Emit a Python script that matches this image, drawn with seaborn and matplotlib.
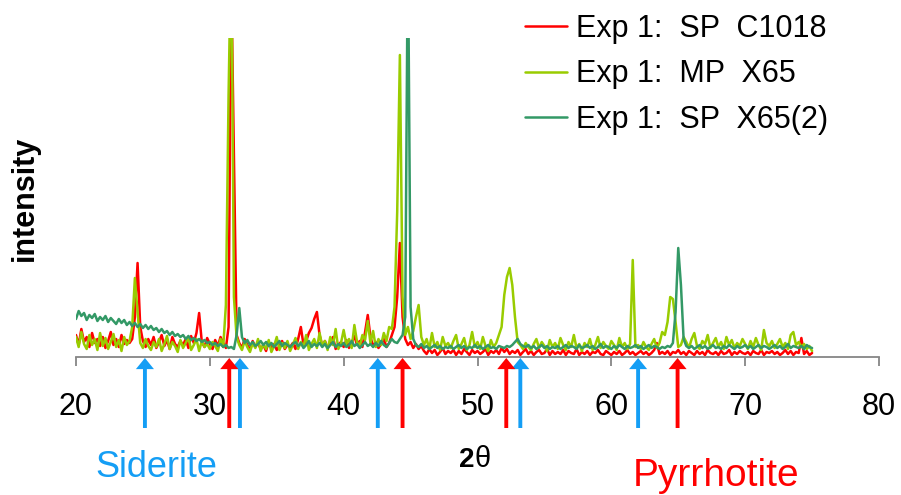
import numpy as np
import pandas as pd
import matplotlib
matplotlib.use("Agg")
import matplotlib.pyplot as plt
from matplotlib.lines import Line2D
import seaborn as sns

# ---------------- data ----------------
# 2-theta grid: 20.0 .. 75.0, step 0.2 (276 points)
two_theta = [round(20.0 + 0.2 * i, 1) for i in range(276)]

sp_c1018 = [
    22, 12, 28, 15, 20, 10, 24, 14, 18, 11,
    20, 9, 16, 25, 12, 18, 10, 22, 13, 17,
    14, 18, 40, 94, 30, 16, 10, 18, 12, 20,
    9, 15, 22, 11, 17, 8, 20, 13, 10, 16,
    12, 18, 9, 21, 14, 24, 44, 15, 10, 19,
    13, 8, 17, 11, 20, 14, 9, 30, 380, 200,
    22, 14, 9, 18, 12, 7, 16, 10, 14, 8,
    12, 6, 15, 9, 13, 7, 11, 16, 8, 12,
    10, 14, 8, 18, 30, 12, 16, 24, 29, 38,
    45, 22, 11, 16, 9, 13, 20, 8, 12, 15,
    10, 17, 9, 14, 21, 12, 16, 10, 25, 42,
    20, 11, 15, 9, 13, 18, 10, 14, 22, 30,
    60, 114, 40, 18, 12, 15, 9, 13, 8, 11,
    6, 3, 8, 4, 7, 2, 5, 9, 3, 6,
    4, 7, 2, 6, 3, 8, 5, 2, 7, 4,
    6, 3, 5, 8, 2, 6, 4, 7, 3, 9,
    5, 8, 3, 6, 4, 7, 2, 5, 8, 3,
    6, 2, 5, 7, 3, 4, 8, 2, 6, 3,
    5, 3, 7, 2, 6, 4, 3, 8, 2, 5,
    3, 6, 2, 5, 4, 7, 3, 2, 6, 4,
    2, 5, 3, 6, 2, 4, 7, 3, 5, 2,
    4, 6, 3, 5, 2, 4, 7, 14, 3, 5,
    3, 6, 2, 5, 4, 7, 3, 5, 2, 6,
    4, 2, 6, 3, 5, 2, 7, 4, 3, 5,
    2, 6, 3, 4, 7, 2, 5, 3, 6, 4,
    3, 5, 2, 6, 4, 3, 7, 2, 5, 4,
    6, 3, 5, 2, 4, 7, 3, 6, 2, 5,
    4, 19, 3, 6, 2, 4,
]

mp_x65 = [
    20, 10, 25, 13, 8, 22, 12, 18, 7, 24,
    11, 19, 8, 15, 23, 10, 17, 6, 20, 12,
    16, 30, 79, 45, 14, 9, 18, 11, 7, 15,
    10, 18, 6, 13, 21, 8, 15, 11, 5, 17,
    9, 14, 20, 7, 12, 18, 6, 16, 10, 13,
    8, 15, 11, 6, 18, 10, 52, 262, 420, 60,
    20, 12, 7, 16, 10, 5, 14, 9, 18, 6,
    13, 8, 17, 5, 11, 20, 7, 14, 9, 16,
    6, 12, 19, 8, 15, 10, 22, 7, 13, 18,
    9, 24, 11, 16, 7, 20, 12, 28, 8, 14,
    27, 13, 18, 9, 32, 15, 11, 22, 17, 36,
    14, 26, 10, 18, 12, 24, 16, 30, 28, 50,
    145, 302, 60, 22, 30, 18, 26, 40, 52, 20,
    12, 18, 8, 24, 10, 15, 7, 20, 11, 14,
    9, 16, 22, 8, 13, 19, 7, 12, 25, 10,
    15, 8, 20, 11, 6, 17, 10, 14, 22, 30,
    62, 80, 89, 72, 40, 15, 12, 8, 14, 10,
    7, 13, 18, 9, 15, 11, 6, 17, 10, 14,
    8, 19, 12, 7, 15, 10, 22, 9, 13, 6,
    14, 10, 18, 7, 12, 20, 9, 15, 11, 8,
    16, 12, 7, 19, 10, 14, 8, 13, 97, 10,
    12, 8, 15, 10, 7, 13, 18, 9, 14, 25,
    22, 35, 60, 58, 35, 10, 12, 20, 15, 9,
    18, 24, 11, 8, 16, 13, 22, 9, 14, 19,
    10, 15, 8, 20, 12, 17, 9, 14, 11, 18,
    13, 8, 16, 10, 19, 12, 7, 27, 14, 11,
    16, 9, 13, 18, 10, 14, 8, 22, 25, 12,
    15, 10, 13, 8, 11, 6,
]

sp_x65_2 = [
    38, 46, 41, 44, 37, 42, 39, 43, 36, 40,
    37, 41, 35, 39, 36, 33, 38, 34, 37, 32,
    35, 31, 34, 30, 33, 29, 32, 28, 31, 27,
    29, 25, 28, 24, 26, 22, 25, 21, 23, 20,
    22, 18, 21, 17, 19, 16, 18, 15, 17, 14,
    15, 12, 14, 11, 13, 10, 12, 9, 10, 8,
    22, 49, 20, 14, 17, 12, 15, 11, 13, 16,
    12, 15, 11, 14, 10, 13, 16, 11, 14, 12,
    10, 13, 15, 11, 14, 9, 12, 16, 10, 13,
    11, 14, 10, 13, 9, 12, 15, 10, 13, 11,
    14, 10, 12, 16, 11, 13, 9, 12, 15, 11,
    13, 10, 14, 11, 16, 12, 10, 14, 18, 15,
    14, 18, 22, 40, 420, 50, 18, 12, 10, 13,
    9, 11, 8, 10, 12, 9, 11, 8, 10, 9,
    11, 8, 10, 12, 9, 11, 8, 10, 9, 12,
    9, 11, 8, 10, 12, 9, 10, 8, 11, 10,
    9, 11, 10, 12, 15, 18, 13, 11, 10, 12,
    9, 11, 8, 10, 12, 9, 11, 8, 10, 9,
    11, 8, 10, 12, 9, 11, 10, 8, 12, 9,
    10, 12, 9, 11, 8, 10, 13, 9, 11, 10,
    8, 11, 9, 12, 10, 8, 11, 9, 10, 12,
    9, 11, 8, 10, 12, 9, 11, 10, 8, 10,
    9, 11, 10, 14, 45, 109, 72, 18, 11, 9,
    11, 8, 10, 12, 9, 11, 8, 10, 12, 9,
    10, 8, 11, 9, 12, 10, 8, 11, 9, 10,
    12, 9, 11, 8, 10, 12, 9, 11, 10, 8,
    10, 12, 9, 11, 8, 10, 13, 9, 11, 10,
    9, 11, 8, 12, 10, 9,
]

series_names = ["Exp 1:  SP  C1018", "Exp 1:  MP  X65", "Exp 1:  SP  X65(2)"]
series_colors = ["#FF0000", "#99CC00", "#339966"]

siderite_pos = [25.15, 32.25, 42.55, 53.2, 62.0]
pyrrhotite_pos = [31.45, 44.4, 52.15, 64.95]
x_ticks = [20, 30, 40, 50, 60, 70, 80]

# ---------------- build table ----------------
frames = []
for name, vals in zip(series_names, [sp_c1018, mp_x65, sp_x65_2]):
    frames.append(pd.DataFrame({"two_theta": two_theta[:len(vals)],
                                "intensity": vals, "series": name}))
df = pd.concat(frames, ignore_index=True)

# ---------------- figure ----------------
sns.set_theme(style="white")
plt.rcParams["font.family"] = ["Liberation Sans", "DejaVu Sans"]
plt.rcParams["text.color"] = "black"
plt.rcParams["xtick.color"] = "black"

W, H = 901, 495
fig = plt.figure(figsize=(W / 100, H / 100), dpi=100)
ax_left, ax_right, ax_bottom, ax_top = 76, 879, 357, 38
ax = fig.add_axes([ax_left / W, 1 - ax_bottom / H,
                   (ax_right - ax_left) / W, (ax_bottom - ax_top) / H])

sns.lineplot(data=df, x="two_theta", y="intensity", hue="series",
             palette=dict(zip(series_names, series_colors)),
             hue_order=series_names, estimator=None, sort=False,
             linewidth=1.8, legend=False, ax=ax)

ax.set_xlim(20, 80)
ax.set_ylim(0, 319)
ax.set_xticks(x_ticks)
ax.set_yticks([])
ax.set_xlabel("")
ax.set_ylabel("")
for s in ["left", "top", "right"]:
    ax.spines[s].set_visible(False)
ax.spines["bottom"].set_color("#868686")
ax.spines["bottom"].set_linewidth(1.3)
ax.tick_params(axis="x", direction="out", length=6.5, width=1.3,
               color="#868686", pad=19, labelsize=22, labelcolor="black",
               bottom=True)

# reference arrows
blue = "#149EF5"
red = "#FF0000"
tip = (ax_bottom - 358) / (ax_bottom - ax_top)
tail = (ax_bottom - 428) / (ax_bottom - ax_top)
trans = ax.get_xaxis_transform()
for pos_list, col in [(siderite_pos, blue), (pyrrhotite_pos, red)]:
    for xp in pos_list:
        ax.annotate("", xy=(xp, tip), xytext=(xp, tail), xycoords=trans,
                    textcoords=trans, annotation_clip=False,
                    arrowprops=dict(facecolor=col, edgecolor="none",
                                    width=2.8, headwidth=13, headlength=8,
                                    shrink=0))

# texts
fig.text(25 / W, 1 - 198 / H, "intensity", rotation=90, ha="center",
         va="center", fontsize=22, fontweight="bold", color="black")
fig.text(475 / W, 1 - 467 / H, "2", ha="right", va="baseline",
         fontsize=20, fontweight="bold", color="black")
fig.text(475 / W, 1 - 467 / H, "θ", ha="left", va="baseline", fontsize=21,
         color="black")
fig.text(95 / W, 1 - 477 / H, "Siderite", ha="left", va="baseline",
         fontsize=26, color=blue)
fig.text(633 / W, 1 - 486 / H, "Pyrrhotite", ha="left", va="baseline",
         fontsize=28, color=red)

# legend
handles = [Line2D([], [], color=c, linewidth=1.8) for c in series_colors]
leg = fig.legend(handles, series_names, loc="upper left",
                 bbox_to_anchor=(525 / W, 1 - 14 / H), frameon=False,
                 fontsize=22, handlelength=1.38, handletextpad=0.28,
                 labelspacing=0.5, borderpad=0, borderaxespad=0)
for t in leg.get_texts():
    t.set_color("black")

fig.savefig("out.png", dpi=100)
